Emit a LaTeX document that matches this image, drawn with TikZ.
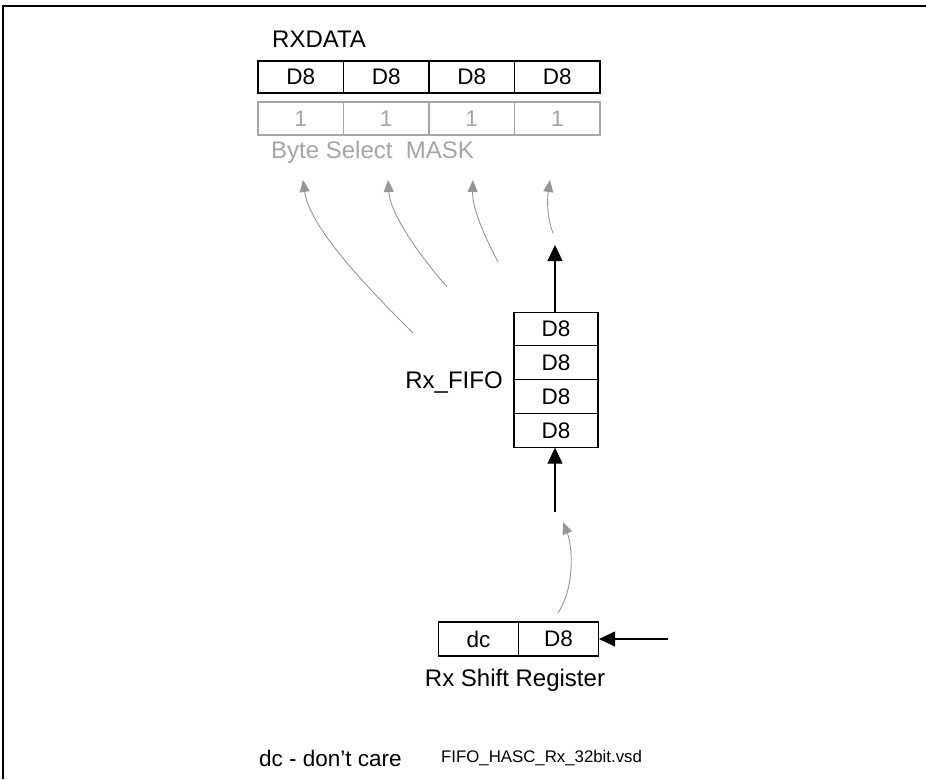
\documentclass[tikz,border=0pt]{standalone}
\usepackage{fontspec}
\setmainfont{Liberation Sans}
\usetikzlibrary{arrows.meta}
\definecolor{mgray}{RGB}{165,165,165}
\definecolor{agray}{RGB}{150,150,150}
\tikzset{
  cell/.style={draw=black,line width=1.1pt,minimum width=85.5pt,minimum height=32pt,inner sep=0pt,font=\fontsize{22.5}{26}\selectfont},
  mcell/.style={draw=mgray,line width=1.1pt,minimum width=85.5pt,minimum height=33pt,inner sep=0pt,text=mgray,font=\fontsize{22.5}{26}\selectfont},
  fcell/.style={draw=black,line width=1.1pt,minimum width=84pt,minimum height=33.75pt,inner sep=0pt,font=\fontsize{22.5}{26}\selectfont},
  scell/.style={draw=black,line width=1.1pt,minimum width=80pt,minimum height=34pt,inner sep=0pt,font=\fontsize{22.5}{26}\selectfont},
  lbl/.style={inner sep=0pt,font=\fontsize{24}{28}\selectfont},
  garrow/.style={draw=agray,line width=0.9pt,-{Triangle[width=10pt,length=12pt]}},
  barrow/.style={draw=black,line width=1.1pt,-{Triangle[width=15pt,length=16pt]}}
}
\begin{document}
\begin{tikzpicture}[x=1pt,y=-1pt]
\useasboundingbox (0,0) rectangle (926,779);
\draw[line width=1.6pt] (3,779) -- (3,6) -- (926,6);

\node[lbl,anchor=west] (rxl) at (272,39) {RXDATA};
\node[cell] (r1) at (300.75,77) {D8};
\node[cell] (r2) at (386.25,77) {D8};
\node[cell] (r3) at (471.75,77) {D8};
\node[cell] (r4) at (557.25,77) {D8};

\node[mcell] (m1) at (300.75,118.5) {1};
\node[mcell] (m2) at (386.25,118.5) {1};
\node[mcell] (m3) at (471.75,118.5) {1};
\node[mcell] (m4) at (557.25,118.5) {1};
\node[lbl,anchor=west,text=mgray] (bsm) at (271,152) {Byte Select\ \ MASK};

\coordinate (s1) at (413,333); \coordinate (t1) at (303,180);
\coordinate (s2) at (447,287); \coordinate (t2) at (388,180);
\coordinate (s3) at (498,262); \coordinate (t3) at (473,180);
\coordinate (s4) at (553,233); \coordinate (t4) at (550,180);
\draw[garrow] (s1) .. controls (375,295) and (310,230) .. (t1);
\draw[garrow] (s2) .. controls (415,250) and (390,212) .. (t2);
\draw[garrow] (s3) .. controls (484,235) and (472,208) .. (t3);
\draw[garrow] (s4) .. controls (547,218) and (547,200) .. (t4);

\node[fcell] (f1) at (556,329) {D8};
\node[fcell] (f2) at (556,362.75) {D8};
\node[fcell] (f3) at (556,396.5) {D8};
\node[fcell] (f4) at (556,430.25) {D8};
\node[lbl] (fifol) at (454,383) {Rx\_FIFO};

\coordinate (ta) at (555,245);
\draw[barrow] (f1.north -| ta) -- (ta);
\coordinate (sb) at (555,512);
\draw[barrow] (sb) -- (sb |- f4.south);

\coordinate (sc) at (558,613); \coordinate (tc) at (563,522);
\draw[garrow] (sc) .. controls (576,585) and (572,545) .. (tc);

\node[scell] (sr1) at (478.5,639) {dc};
\node[scell] (sr2) at (558.5,639) {D8};
\node[lbl] (srl) at (515,680) {Rx Shift Register};
\coordinate (in) at (668,639);
\draw[barrow] (in) -- (sr2.east);

\node[inner sep=0pt,anchor=west,font=\fontsize{22.5}{26}\selectfont] (dcl) at (259,758) {dc - don’t care};
\node[inner sep=0pt,anchor=west,font=\fontsize{16.8}{19}\selectfont] (fn) at (441,758) {FIFO\_HASC\_Rx\_32bit.vsd};
\end{tikzpicture}
\end{document}
